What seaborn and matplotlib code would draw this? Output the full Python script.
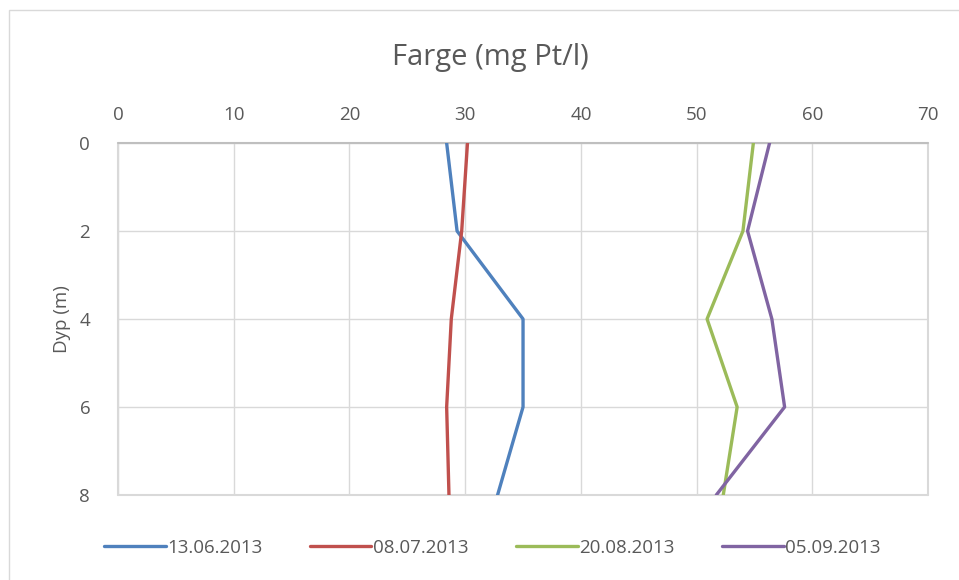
import pandas as pd
import matplotlib
matplotlib.use('Agg')
import matplotlib.pyplot as plt
import seaborn as sns

# data
dyp = [0, 2, 4, 6, 8]
datoer = ['13.06.2013', '08.07.2013', '20.08.2013', '05.09.2013']
farge_1306 = [28.4, 29.3, 35.0, 35.0, 32.8]
farge_0807 = [30.2, 29.7, 28.8, 28.4, 28.6]
farge_2008 = [54.9, 54.0, 50.9, 53.5, 52.3]
farge_0509 = [56.3, 54.4, 56.5, 57.6, 51.7]
farger = ['#4F81BD', '#C0504D', '#9BBB59', '#8064A2']

rows = []
for dato, verdier in zip(datoer, [farge_1306, farge_0807, farge_2008, farge_0509]):
    for d, v in zip(dyp, verdier):
        rows.append({'dato': dato, 'dyp': d, 'farge': v})
df = pd.DataFrame(rows)

sns.set_style('white')
plt.rcParams['font.family'] = ['Open Sans', 'DejaVu Sans']
tekst = '#595959'

fig = plt.figure(figsize=(9.59, 5.8), dpi=100)
ax = fig.add_axes([0.123, 0.1466, 0.8448, 0.6068])

sns.lineplot(data=df, x='farge', y='dyp', hue='dato', palette=farger,
             estimator=None, sort=False, linewidth=2.4, ax=ax, zorder=3)

ax.set_xlim(0, 70)
ax.set_ylim(8, 0)
ax.set_xticks(range(0, 71, 10))
ax.set_yticks(dyp)
ax.xaxis.tick_top()
ax.grid(True, color='#d9d9d9', linewidth=1)
for s in ax.spines.values():
    s.set_visible(False)
# edge gridlines so they are not clipped
for x in [0, 70]:
    ax.axvline(x, color='#d9d9d9', linewidth=1.5, zorder=1, clip_on=False)
ax.axhline(8, color='#d9d9d9', linewidth=1.5, zorder=1, clip_on=False)
ax.axhline(0, color='#bfbfbf', linewidth=1.5, zorder=1, clip_on=False)
ax.tick_params(axis='x', length=0, labelsize=13.5, labelcolor=tekst, pad=14)
ax.tick_params(axis='y', length=0, labelsize=13.5, labelcolor=tekst, pad=20)
ax.set_xlabel('')
ax.set_ylabel('Dyp (m)', fontsize=13.5, color=tekst, labelpad=6)

fig.text(0.511, 0.90, 'Farge (mg Pt/l)', ha='center', va='center',
         fontsize=21, color=tekst)

ax.legend(loc='center', bbox_to_anchor=(0.462, -0.15), ncol=4, frameon=False,
          fontsize=13.5, handlelength=3.3, handletextpad=0.1, columnspacing=2.5,
          labelcolor=tekst)

# outer frame
fig.patches.append(plt.Rectangle((0.009, -0.01), 1.0, 0.993, transform=fig.transFigure,
                                 fill=False, edgecolor='#d9d9d9', linewidth=1))

plt.savefig('out.png', dpi=100)
